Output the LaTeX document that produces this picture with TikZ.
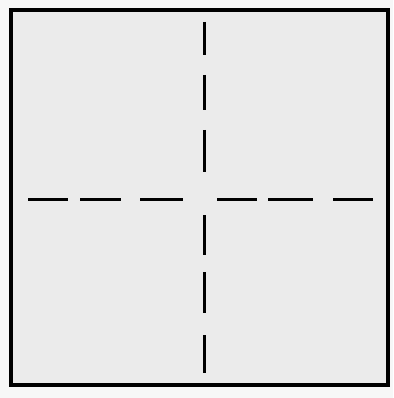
\documentclass[tikz,border=0pt]{standalone}
\usepackage{tikz}

\begin{document}
\begin{tikzpicture}[x=1pt, y=-1pt,
  frame/.style={draw=black, line width=3.4pt, fill=black!8},
  dashline/.style={draw=black, line width=3pt}
]
\useasboundingbox[fill=black!3] (0,0) rectangle (393,398);
\coordinate (tl) at (11,10);
\coordinate (br) at (388,385);
\draw[frame] (tl) rectangle (br);
% vertical dashes
\foreach \a/\b in {22/55, 75/110, 130/172, 215/255, 272/313, 335/373}
  \draw[dashline] (204,\a) -- (204,\b);
% horizontal dashes
\foreach \a/\b in {28/68, 80/121, 140/183, 217/257, 268/313, 333/373}
  \draw[dashline] (\a,199) -- (\b,199);
\end{tikzpicture}
\end{document}
